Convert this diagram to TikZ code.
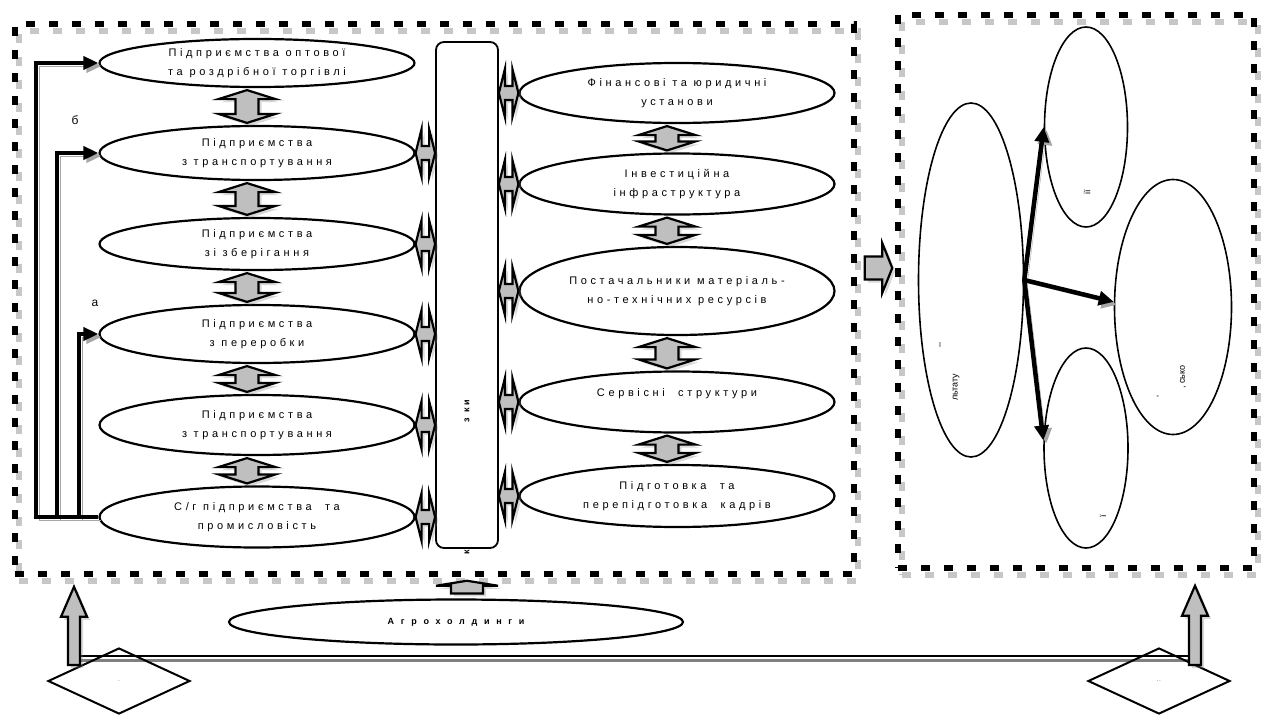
\documentclass[tikz,border=0pt]{standalone}
\usepackage{fontspec}
\setmainfont{Liberation Sans}
\newfontfamily\spaced[LetterSpace=33]{Liberation Sans}
\newfontfamily\spacedw[LetterSpace=75]{Liberation Sans}
\usetikzlibrary{shapes.geometric,arrows.meta,calc,shadows}

\tikzset{
  ell/.style={ellipse,draw,line width=2.2pt,inner sep=0pt,minimum width=315pt,
    minimum height=56pt,align=center,font=\spaced\fontsize{11}{19}\selectfont},
  oval/.style={ellipse,draw,line width=1.6pt,inner sep=0pt},
  frame/.style={draw,line width=5.5pt,dash pattern=on 9pt off 14pt,inner sep=0pt,
    preaction={draw=black!22,transform canvas={shift={(4pt,-7pt)}}}},
  blk/.style={draw,line width=2.2pt,fill=black!25,
    drop shadow={opacity=0.3,shadow xshift=3pt,shadow yshift=-3pt}},
  vdbl/.style args={#1/#2/#3}{blk,to path={let \p1=(\tikztostart),\p2=(\tikztotarget) in
    (\x1,\y1) -- (\x1+#2,\y1-#3) -- (\x1+#1,\y1-#3) -- (\x1+#1,\y2+#3) -- (\x1+#2,\y2+#3)
    -- (\x1,\y2) -- (\x1-#2,\y2+#3) -- (\x1-#1,\y2+#3) -- (\x1-#1,\y1-#3) -- (\x1-#2,\y1-#3) -- cycle}},
  hdbl/.style args={#1/#2/#3}{blk,to path={let \p1=(\tikztostart),\p2=(\tikztotarget) in
    (\x1,\y1) -- (\x1+#3,\y1+#2) -- (\x1+#3,\y1+#1) -- (\x2-#3,\y1+#1) -- (\x2-#3,\y1+#2)
    -- (\x2,\y1) -- (\x2-#3,\y1-#2) -- (\x2-#3,\y1-#1) -- (\x1+#3,\y1-#1) -- (\x1+#3,\y1-#2) -- cycle}},
  uarr/.style args={#1/#2/#3}{blk,to path={let \p1=(\tikztostart),\p2=(\tikztotarget) in
    (\x1-#1,\y1) -- (\x1-#1,\y2-#3) -- (\x1-#2,\y2-#3) -- (\x1,\y2) -- (\x1+#2,\y2-#3)
    -- (\x1+#1,\y2-#3) -- (\x1+#1,\y1) -- cycle}},
  rarr/.style args={#1/#2/#3}{blk,to path={let \p1=(\tikztostart),\p2=(\tikztotarget) in
    (\x1,\y1+#1) -- (\x2-#3,\y1+#1) -- (\x2-#3,\y1+#2) -- (\x2,\y1) -- (\x2-#3,\y1-#2)
    -- (\x2-#3,\y1-#1) -- (\x1,\y1-#1) -- cycle}},
  route/.style={line width=4pt,-{Triangle[length=15pt,width=13pt]},
    preaction={draw=black!35,transform canvas={shift={(3pt,-3pt)}}}},
  fan/.style={line width=4.5pt,-{Triangle[length=15pt,width=14pt]},
    preaction={draw=black!35,transform canvas={shift={(3pt,-3pt)}}}},
  link/.style={line width=2pt,preaction={draw=black!50,line width=3pt,transform canvas={shift={(0pt,-4pt)}}}},
  vert/.style={rotate=90,inner sep=0pt,font=\fontsize{9}{10}\selectfont}
}

\begin{document}
\begin{tikzpicture}[x=1pt,y=-1pt]
\useasboundingbox (0,0) rectangle (1266,720);

\node[frame,minimum width=839pt,minimum height=550pt] (lbox) at (434.5,299) {};
\node[frame,minimum width=356pt,minimum height=553pt] (rbox) at (1076,291.5) {};

\node[ell,minimum height=48pt] (l1) at (257,63) {Підприємства оптової\\та роздрібної торгівлі};
\node[ell,minimum height=54pt] (l2) at (257,153) {Підприємства\\з транспортування};
\node[ell,minimum height=52pt] (l3) at (257,244) {Підприємства\\зі зберігання};
\node[ell,minimum height=58pt] (l4) at (257,334) {Підприємства\\з переробки};
\node[ell,minimum height=60pt] (l5) at (257,425) {Підприємства\\з транспортування};
\node[ell,minimum height=61pt] (l6) at (257,517) {С/г підприємства~~та\\промисловість};

\node[ell,minimum height=60pt] (r1) at (677,93) {Фінансові та юридичні\\установи};
\node[ell,minimum height=61pt] (r2) at (677,184) {Інвестиційна\\інфраструктура};
\node[ell,minimum height=88pt] (r3) at (677,291) {Постачальники матеріаль-\\но-технічних ресурсів};
\node[ell,minimum height=61pt] (r4) at (677,402) {Сервісні~~структури\\~};
\node[ell,minimum height=62pt] (r5) at (677,496) {Підготовка~~та\\перепідготовка~~кадрів};

\node[draw,line width=1.8pt,rounded corners=8pt,minimum width=62pt,minimum height=506pt] (tall) at (467,295) {};
\node[vert,font=\spaced\bfseries\fontsize{9}{10}\selectfont] (tallt) at (467,411) {з ки};
\node[vert,font=\spaced\bfseries\fontsize{9}{10}\selectfont] (tallk) at (467,552) {к};

\node[ell,minimum width=454pt,minimum height=45pt,font=\spacedw\bfseries\fontsize{9}{10}\selectfont] (ahold) at (456,622) {Агрохолдинги};

\foreach \a/\b in {l1/l2,l2/l3,l3/l4,l4/l5,l5/l6,r1/r2,r2/r3,r3/r4,r4/r5}
  \draw[vdbl=11.5pt/28.5pt/9pt] ($(\a.south)+(-10,2)$) to ($(\b.north)+(-10,-2)$);
\foreach \e in {l2,l3,l4,l5,l6}
  \draw[hdbl=7pt/24pt/6pt] (\e.east) to (\e.east -| tall.west);
\foreach \e in {r1,r2,r3,r4,r5}
  \draw[hdbl=7pt/24pt/6pt] (\e.west -| tall.east) to (\e.west);

\draw[route] (l6.west) -- ++(-62.5,0) |- (l1.west);
\draw[route] (l6.west) -- ++(-41.5,0) |- (l2.west);
\draw[route] (l6.west) -- ++(-19.5,0) |- (l4.west);
\node[font=\fontsize{12}{14}\selectfont] (lb) at (75,120) {б};
\node[font=\fontsize{12}{14}\selectfont] (la) at (95,303) {а};

\node[oval,minimum width=105pt,minimum height=354pt] (big) at (971,280) {};
\node[oval,minimum width=83pt,minimum height=200pt] (tm) at (1086,127) {};
\node[oval,minimum width=117pt,minimum height=255pt] (rt) at (1173,307) {};
\node[oval,minimum width=84pt,minimum height=200pt] (bm) at (1086,448) {};
\node[vert] (bt1) at (941,345) {–};
\node[vert] (bt2) at (956,387) {льтату};
\node[vert] (tt1) at (1087,192) {ії};
\node[vert] (rt1) at (1183,377) {, сько};
\node[vert] (rt2) at (1160,396) {’};
\node[vert] (mt1) at (1103,516) {ї};
\draw[fan] (big.east) -- (tm.west);
\draw[fan] (big.east) -- (rt.175);
\draw[fan] (big.east) -- (bm.170);

\draw[rarr=11.5pt/25pt/10pt] ($(lbox.east)+(8,-31)$) to ($(rbox.west)+(-3,-23.5)$);
\draw[uarr=16pt/31pt/5pt] ($(tall.south |- ahold.north)+(0,-5)$) to ($(tall.south |- lbox.south)+(0,4)$);

\coordinate (jl) at (74,656);
\coordinate (jr) at (1195,656);
\draw[link] (jl) -- (jr);
\node[diamond,draw,line width=2pt,minimum width=142pt,minimum height=66pt,inner sep=0pt,font=\tiny] (dl) at (119,681) {.};
\node[diamond,draw,line width=2pt,minimum width=142pt,minimum height=66pt,inner sep=0pt,font=\tiny] (dr) at (1159,681) {.\,.};
\draw[uarr=6pt/13pt/30pt] ($(jl)+(0,9)$) to ($(jl |- lbox.south)+(0,10)$);
\draw[uarr=6pt/13pt/30pt] ($(jr)+(0,9)$) to ($(jr |- rbox.south)+(0,15)$);
\end{tikzpicture}
\end{document}
